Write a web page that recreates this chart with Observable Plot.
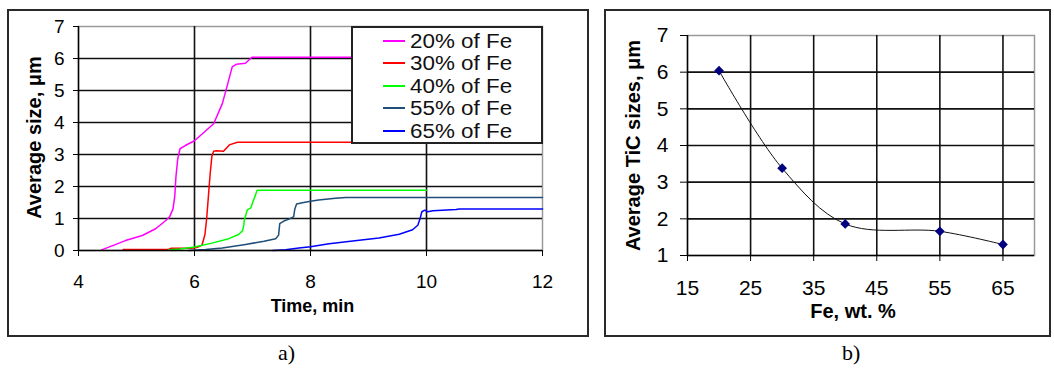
<!DOCTYPE html>
<html>
<head>
<meta charset="utf-8">
<script src="https://cdn.jsdelivr.net/npm/d3@7"></script>
<script src="https://cdn.jsdelivr.net/npm/@observablehq/plot@0.6"></script>
<style>
  html, body { margin: 0; padding: 0; background: #fff; }
  #page { position: relative; width: 1054px; height: 371px; overflow: hidden; font-family: 'Liberation Sans', Arial, sans-serif; }
  .panel { position: absolute; border: 2px solid #2a2a2a; box-sizing: border-box; background: #fff; }
  .chart { position: absolute; top: 0; }
  .caption { position: absolute; top: 340px; font-family: 'Liberation Serif', 'Times New Roman', serif; font-size: 22px; color: #000; }
  #legend { position: absolute; left: 351px; top: 26px; width: 192px; height: 118px; box-sizing: border-box;
            border: 2px solid #222; background: #fff; padding-top: 2px; }
  #legend .row { display: flex; align-items: center; height: 22px; margin-bottom: 0.4px; }
  #legend .swatch { width: 22px; height: 2px; margin-left: 30px; margin-right: 5px; flex: none; }
  #legend .label { display: inline-block; font-size: 20px; line-height: 22px; color: #111;
                   transform: scaleX(1.12); transform-origin: left center; white-space: nowrap; }
</style>
</head>
<body>
<div id="page">
  <div class="panel" style="left:7px; top:9px; width:582px; height:328px;"></div>
  <div class="panel" style="left:604px; top:9px; width:447px; height:328px;"></div>
  <div id="chartA" class="chart" style="left:0;"></div>
  <div id="chartB" class="chart" style="left:600px;"></div>
  <div id="legend"></div>
  <div class="caption" style="left:278px;">a)</div>
  <div class="caption" style="left:842px;">b)</div>
</div>
<script>
// (a) average carbide size vs time for each Fe content
const seriesNames = ["20% of Fe", "30% of Fe", "40% of Fe", "55% of Fe", "65% of Fe"];
const seriesColors = ["#ff00ff", "#ff0000", "#00ff00", "#1f4e79", "#0000ff"];

const fe20Time = [4.40, 4.81, 5.10, 5.33, 5.50, 5.57, 5.63, 5.66, 5.68, 5.71, 5.75, 5.84, 6.00, 6.33, 6.48, 6.56, 6.65, 6.72, 6.88, 6.99, 10];
const fe20Size = [0.02, 0.31, 0.47, 0.68, 0.93, 1.05, 1.30, 1.70, 2.30, 2.85, 3.18, 3.28, 3.43, 3.96, 4.59, 5.12, 5.74, 5.82, 5.85, 6.04, 6.04];

const fe30Time = [4.77, 5.55, 5.60, 5.95, 6.05, 6.13, 6.18, 6.21, 6.24, 6.27, 6.30, 6.33, 6.38, 6.50, 6.60, 6.74, 10];
const fe30Size = [0.03, 0.03, 0.07, 0.07, 0.10, 0.17, 0.50, 1.00, 1.70, 2.40, 2.95, 3.10, 3.12, 3.10, 3.30, 3.38, 3.38];

const fe40Time = [5.56, 5.75, 6.00, 6.30, 6.59, 6.76, 6.83, 6.85, 6.86, 6.91, 6.97, 7.01, 7.08, 10];
const fe40Size = [0.02, 0.05, 0.11, 0.23, 0.37, 0.50, 0.62, 0.80, 0.95, 1.27, 1.33, 1.53, 1.88, 1.88];

const fe55Time = [5.90, 6.19, 6.48, 6.88, 7.20, 7.40, 7.45, 7.47, 7.54, 7.63, 7.71, 7.73, 7.76, 7.86, 8.00, 8.14, 8.43, 8.61, 12];
const fe55Size = [0.00, 0.03, 0.08, 0.19, 0.29, 0.37, 0.48, 0.84, 0.92, 0.98, 1.06, 1.30, 1.45, 1.49, 1.54, 1.58, 1.63, 1.66, 1.66];

const fe65Time = [7.35, 7.57, 7.80, 8.00, 8.32, 8.84, 9.18, 9.53, 9.76, 9.85, 9.89, 9.92, 9.97, 10.02, 10.11, 10.51, 10.57, 12];
const fe65Size = [0.00, 0.02, 0.08, 0.12, 0.21, 0.32, 0.39, 0.51, 0.65, 0.79, 1.00, 1.21, 1.26, 1.21, 1.24, 1.28, 1.30, 1.30];

const timeTicks = [4, 6, 8, 10, 12];
const sizeTicks = [0, 1, 2, 3, 4, 5, 6, 7];

// (b) final TiC size vs Fe content
const feContent = [20, 30, 40, 55, 65];
const ticSize = [6.04, 3.38, 1.86, 1.66, 1.30];
const feTicks = [15, 25, 35, 45, 55, 65];
const ticTicks = [1, 2, 3, 4, 5, 6, 7];

const seriesTimes = [fe20Time, fe30Time, fe40Time, fe55Time, fe65Time];
const seriesSizes = [fe20Size, fe30Size, fe40Size, fe55Size, fe65Size];
const rowsA = seriesNames.flatMap((name, i) =>
  seriesTimes[i].map((t, j) => ({series: name, time: t, size: seriesSizes[i][j]})));
const rowsB = feContent.map((fe, i) => ({fe, size: ticSize[i]}));

const baseStyle = {fontFamily: "'Liberation Sans', Arial, sans-serif", fontSize: "19px", color: "#000", background: "transparent", overflow: "visible"};
const gridStyle = {stroke: "#111", strokeOpacity: 1, strokeWidth: 1.6};

const chartA = Plot.plot({
  width: 590, height: 340,
  marginLeft: 78, marginRight: 48, marginTop: 26, marginBottom: 90,
  style: baseStyle,
  x: {domain: [4, 12]},
  y: {domain: [0, 7]},
  color: {domain: seriesNames, range: seriesColors},
  marks: [
    Plot.frame({stroke: "#9a9a9a", strokeWidth: 1.5}),
    Plot.gridX(timeTicks.slice(1, -1), gridStyle),
    Plot.gridY(sizeTicks.slice(1, -1), gridStyle),
    Plot.line(rowsA, {x: "time", y: "size", z: "series", stroke: "series", strokeWidth: 1.5}),
    Plot.ruleX([timeTicks[0]], {stroke: "#000", strokeWidth: 1.5}),
    Plot.ruleY([sizeTicks[0]], {stroke: "#000", strokeWidth: 1.5}),
    Plot.axisX(timeTicks, {tickSize: 6, tickPadding: 18, label: null}),
    Plot.axisY(sizeTicks, {tickSize: 5, tickPadding: 9, label: null}),
    Plot.text(["Time, min"], {text: d => d, frameAnchor: "bottom", dy: 61, dx: 2, fontWeight: "bold", fontSize: 18}),
    Plot.text(["Average size, μm"], {text: d => d, frameAnchor: "left", textAnchor: "middle", rotate: -90, dx: -44, dy: -1, fontWeight: "bold", fontSize: 20})
  ]
});
document.getElementById("chartA").appendChild(chartA);

const chartB = Plot.plot({
  width: 454, height: 340,
  marginLeft: 87, marginRight: 20, marginTop: 35, marginBottom: 85,
  style: {...baseStyle, fontSize: "21px"},
  x: {domain: [15, 70]},
  y: {domain: [1, 7]},
  marks: [
    Plot.frame({stroke: "#9a9a9a", strokeWidth: 1.5}),
    Plot.gridX(feTicks.slice(1), gridStyle),
    Plot.gridY(ticTicks.slice(1, -1), gridStyle),
    Plot.ruleX([feTicks[0]], {stroke: "#000", strokeWidth: 1.5}),
    Plot.ruleY([ticTicks[0]], {stroke: "#000", strokeWidth: 1.5}),
    Plot.axisX(feTicks, {tickSize: 6, tickPadding: 19, label: null}),
    Plot.axisY(ticTicks, {tickSize: 7, tickPadding: 12, label: null}),
    Plot.line(rowsB, {x: "fe", y: "size", stroke: "#111", strokeWidth: 1, curve: "catmull-rom"}),
    Plot.dot(rowsB, {x: "fe", y: "size", symbol: "diamond2", r: 4.4, fill: "#000080", stroke: "none"}),
    Plot.text(["Fe, wt. %"], {text: d => d, frameAnchor: "bottom", dy: 62, dx: -8, fontWeight: "bold", fontSize: 20}),
    Plot.text(["Average TiC sizes, μm"], {text: d => d, frameAnchor: "left", textAnchor: "middle", rotate: -90, dx: -54, fontWeight: "bold", fontSize: 20})
  ]
});
document.getElementById("chartB").appendChild(chartB);

// legend box for panel (a)
const legend = d3.select("#legend");
seriesNames.forEach((name, i) => {
  const row = legend.append("div").attr("class", "row");
  row.append("span").attr("class", "swatch").style("background", seriesColors[i]);
  row.append("span").attr("class", "label").text(name);
});
</script>
</body>
</html>
